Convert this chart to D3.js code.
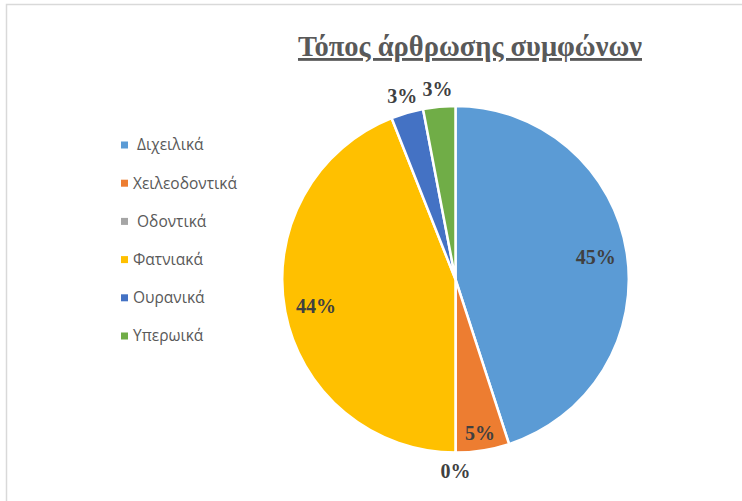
<!DOCTYPE html>
<html>
<head>
<meta charset="utf-8">
<script src="https://cdn.jsdelivr.net/npm/d3@7"></script>
<style>
  html, body { margin: 0; padding: 0; background: #fff; }
  svg { display: block; }
</style>
</head>
<body>
<svg id="chart" width="742" height="501"></svg>
<script>
// Place of articulation of consonants (percent shares)
const categories = [" Διχειλικά", "Χειλεοδοντικά", " Οδοντικά", "Φατνιακά", "Ουρανικά", "Υπερωικά"];
const values = [45, 5, 0, 44, 3, 3];
const colors = ["#5B9BD5", "#ED7D31", "#A5A5A5", "#FFC000", "#4472C4", "#70AD47"];
const title = "Τόπος άρθρωσης συμφώνων";

const W = 742, H = 501;
const svg = d3.select("#chart");

// chart frame
svg.append("path")
  .attr("d", `M${W},4.5 H6.5 V${H}`)
  .attr("fill", "none")
  .attr("stroke", "#d9d9d9")
  .attr("stroke-width", 1.5);

// title
svg.append("text")
  .attr("x", 470)
  .attr("y", 56)
  .attr("text-anchor", "middle")
  .attr("font-family", "'Liberation Serif', 'Times New Roman', serif")
  .attr("font-weight", "bold")
  .attr("font-size", 28.5)
  .attr("fill", "#595959")
  .attr("text-decoration", "underline")
  .text(title);

// pie
const cx = 455.5, cy = 279.3, R = 173.3;
const data = categories.map((c, i) => ({ name: c, value: values[i], color: colors[i] }));
const pie = d3.pie().sort(null).value(d => d.value);
const arcs = pie(data);
const arc = d3.arc().innerRadius(0).outerRadius(R);

const g = svg.append("g").attr("transform", `translate(${cx},${cy})`);
g.selectAll("path.slice")
  .data(arcs)
  .join("path")
  .attr("class", "slice")
  .attr("d", arc)
  .attr("fill", d => d.data.color)
  .attr("stroke", "#fff")
  .attr("stroke-width", 2.5)
  .attr("stroke-linejoin", "round");

// data labels: inside for wide slices, just outside the rim for small ones
const total = d3.sum(values);
function labelPos(d) {
  const share = d.data.value / total;
  const mid = (d.startAngle + d.endAngle) / 2;
  let r;
  if (share <= 0.03) r = R + 18;
  else if (share < 0.1) r = R * 0.9;
  else r = R * 0.82;
  return [Math.sin(mid) * r, -Math.cos(mid) * r];
}
const pctFmt = d3.format(".0%");
g.selectAll("text.lbl")
  .data(arcs)
  .join("text")
  .attr("class", "lbl")
  .attr("transform", d => `translate(${labelPos(d)})`)
  .attr("text-anchor", "middle")
  .attr("dy", "0.35em")
  .attr("font-family", "'Liberation Serif', 'Times New Roman', serif")
  .attr("font-weight", "bold")
  .attr("font-size", 20)
  .attr("fill", "#404040")
  .text(d => pctFmt(d.data.value / total));

// legend
const legendY = d3.scalePoint().domain(categories).range([145, 336]);
const leg = svg.append("g");
const rows = leg.selectAll("g")
  .data(data)
  .join("g")
  .attr("transform", d => `translate(121,${legendY(d.name)})`);
rows.append("rect")
  .attr("x", 0).attr("y", -3.5)
  .attr("width", 7).attr("height", 7)
  .attr("fill", d => d.color);
rows.append("text")
  .attr("x", 12)
  .attr("dy", "0.35em")
  .attr("font-family", "'Open Sans', 'Noto Sans', sans-serif")
  .attr("font-size", 15.5)
  .attr("fill", "#595959")
  .style("white-space", "pre")
  .text(d => d.name);
</script>
</body>
</html>
